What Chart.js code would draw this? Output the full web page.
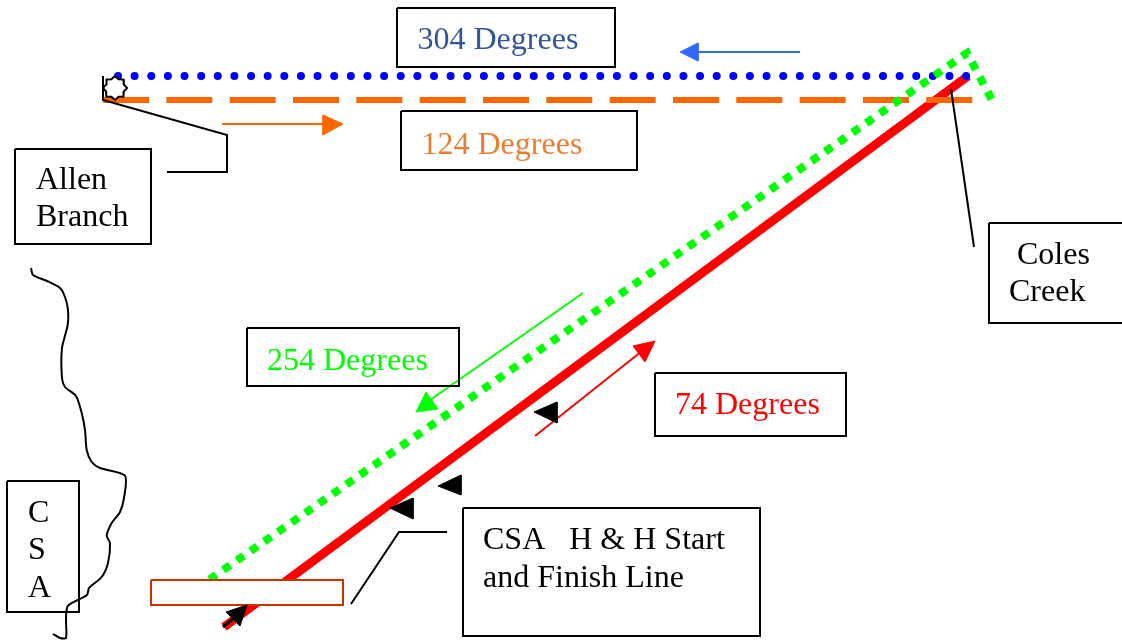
<!DOCTYPE html>
<html>
<head>
<meta charset="utf-8">
<script src="https://cdn.jsdelivr.net/npm/chart.js@4/dist/chart.umd.min.js"></script>
<style>
  html, body { margin: 0; padding: 0; background: #fff; overflow: hidden; }
  canvas { display: block; }
</style>
</head>
<body>
<canvas id="courseChart" width="1122" height="640"></canvas>
<script>
// course legs
const leg304 = [[118, 76], [967, 76]]
const leg124 = [[103, 100], [975, 100]]
const leg254 = [[209.5, 579.5], [967, 53], [992, 100]]
const leg74 = [[224, 627], [968, 76]]

// creek and leader lines
const creek = [[31, 268], [33, 275], [47, 281], [60, 288], [65, 297], [68, 310], [67.7, 325], [62, 348], [62, 378], [65, 387], [76, 396], [81.7, 413], [85, 430], [86.7, 450], [91.7, 462], [100, 468], [125, 475.7], [124, 498], [120, 512], [111.7, 523], [106.7, 535.7], [110, 543], [108, 563], [101.7, 577], [89, 588], [87, 595], [68, 605.7], [66, 618], [66, 638], [60, 638], [53, 634]]
const allenLeader = [[103, 76], [103, 100], [227, 135], [227, 172], [167, 172]]
const colesLeader = [[951, 89], [974, 247]]
const startLeader = [[351, 604], [399, 532], [447, 532]]

// direction arrows
const blueShaft = [[800, 52], [696, 52]]
const blueHead = [[680, 52], [698, 43], [698, 61], [680, 52]]
const orangeShaft = [[222, 124], [325, 124]]
const orangeHead = [[343, 124], [323, 115], [323, 135], [343, 124]]
const greenShaft = [[583, 293], [430, 400]]
const greenHead = [[416, 412], [426, 392], [438, 409], [416, 412]]
const redShaft = [[535, 436], [642, 351]]
const redHead = [[655, 341], [633, 346], [645, 362], [655, 341]]

// black markers along the red leg
const marker1 = [[534, 412], [557, 402], [557, 423], [534, 412]]
const marker2 = [[438, 486], [461, 475], [461, 495], [438, 486]]
const marker3 = [[390, 508], [413, 498], [413, 519], [390, 508]]
const startShaft = [[223, 627], [236, 616]]
const startHead = [[247, 605], [226, 612], [240, 626], [247, 605]]

const startBox = [[151, 580], [343, 580], [343, 605], [151, 605], [151, 580]]
const allenStar = [[115, 76], [118.6, 79.2], [123.5, 79.5], [123.8, 84.4], [127, 88], [123.8, 91.6], [123.5, 96.5], [118.6, 96.8], [115, 100], [111.4, 96.8], [106.5, 96.5], [106.2, 91.6], [103, 88], [106.2, 84.4], [106.5, 79.5], [111.4, 79.2], [115, 76]]

// text boxes
const boxes = [
  [[397, 8], [615, 8], [615, 67], [397, 67], [397, 8]],
  [[401, 111], [637, 111], [637, 170], [401, 170], [401, 111]],
  [[15, 149], [151, 149], [151, 244], [15, 244], [15, 149]],
  [[989, 223], [1124, 223], [1124, 323], [989, 323], [989, 223]],
  [[247, 328], [459, 328], [459, 386], [247, 386], [247, 328]],
  [[655, 373], [846, 373], [846, 436], [655, 436], [655, 373]],
  [[7, 481], [79, 481], [79, 612], [7, 612], [7, 481]],
  [[463, 508], [760, 508], [760, 636], [463, 636], [463, 508]],
]

const labelTexts = ["304 Degrees", "124 Degrees", "Allen", "Branch", "Coles", "Creek", "254 Degrees", "74 Degrees", "C", "S", "A", "CSA   H & H Start", "and Finish Line"]
const labelX = [417.5, 421.5, 36, 36, 1017, 1009, 267, 675, 28, 28, 28, 483, 483]
const labelY = [49, 154, 189, 226, 264, 301, 370, 414, 522, 559, 597, 549, 587]
const labelColors = ["#33559A", "#ED7D31", "#000000", "#000000", "#000000", "#000000", "#00FF00", "#FF0000", "#000000", "#000000", "#000000", "#000000", "#000000"]

function toPoints(pairs) {
  return pairs.map(function (p) {
    return { x: p[0], y: p[1] }
  })
}

function stroke(pairs, color, width, extra) {
  return Object.assign(
    {
      data: toPoints(pairs),
      showLine: true,
      fill: false,
      borderColor: color,
      borderWidth: width,
      pointRadius: 0,
      tension: 0,
      borderCapStyle: "butt",
      borderJoinStyle: "miter",
    },
    extra || {}
  )
}

function shape(pairs, fillColor, lineColor, width) {
  return stroke(pairs, lineColor, width, {
    fill: "shape",
    backgroundColor: fillColor,
  })
}

// listed bottom to top
const layers = [
  stroke(leg74, "#FF0000", 9),
  stroke(leg124, "#FF6600", 6, { borderDash: [46, 17.33] }),
  stroke(leg304, "#0000FF", 8, { borderDash: [0.01, 16.62], borderCapStyle: "round" }),
  stroke(leg254, "#00FF00", 8, { borderDash: [8.33, 8.33] }),
  stroke(allenLeader, "#000000", 2),
  stroke(colesLeader, "#000000", 2),
  stroke(startLeader, "#000000", 2),
  stroke(creek, "#000000", 2, { tension: 0.25 }),
  stroke(blueShaft, "#3366FF", 2),
  shape(blueHead, "#3366FF", "#3366FF", 1),
  stroke(orangeShaft, "#FF6600", 2),
  shape(orangeHead, "#FF6600", "#FF6600", 1),
  stroke(greenShaft, "#00FF00", 2),
  shape(greenHead, "#00FF00", "#00FF00", 1),
  stroke(redShaft, "#FF0000", 2),
  shape(redHead, "#FF0000", "#FF0000", 1),
  shape(marker1, "#000000", "#000000", 1),
  shape(marker2, "#000000", "#000000", 1),
  shape(marker3, "#000000", "#000000", 1),
  shape(startBox, "#FFFFFF", "#CC3300", 2),
  stroke(startShaft, "#000000", 3),
  shape(startHead, "#000000", "#000000", 1),
  shape(allenStar, "#FFFFFF", "#000000", 2),
]
boxes.forEach(function (b) {
  layers.push(stroke(b, "#000000", 2))
})
layers.forEach(function (d, i) {
  d.order = layers.length - i
})

const labelPlugin = {
  id: "courseLabels",
  afterDatasetsDraw(chart) {
    const ctx = chart.ctx
    ctx.save()
    ctx.font = '32px "Liberation Serif"'
    ctx.textBaseline = "alphabetic"
    labelTexts.forEach(function (text, i) {
      ctx.fillStyle = labelColors[i]
      ctx.fillText(text, chart.scales.x.getPixelForValue(labelX[i]), chart.scales.y.getPixelForValue(labelY[i]))
    })
    ctx.restore()
  },
}

new Chart(document.getElementById("courseChart").getContext("2d"), {
  type: "scatter",
  data: { datasets: layers },
  plugins: [labelPlugin],
  options: {
    responsive: false,
    animation: false,
    layout: { padding: 0 },
    plugins: { legend: { display: false }, tooltip: { enabled: false } },
    scales: {
      x: { type: "linear", display: false, min: 0, max: 1122 },
      y: { type: "linear", display: false, min: 0, max: 640, reverse: true },
    },
  },
})
</script>
</body>
</html>
